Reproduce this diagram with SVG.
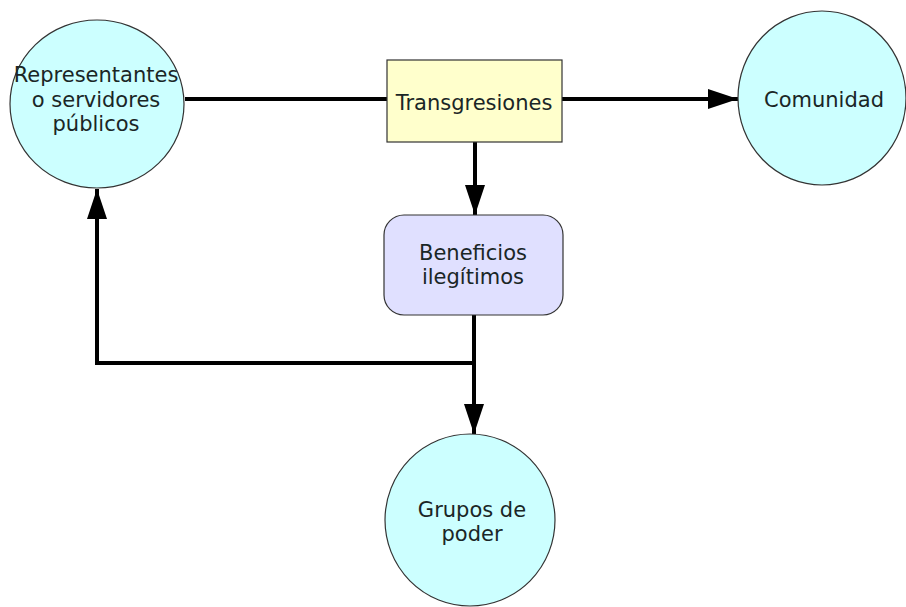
<svg xmlns="http://www.w3.org/2000/svg" width="906" height="607" viewBox="0 0 906 607">
<style>
.circ{fill:#ccffff;stroke:#333;stroke-width:1.2}
.lbl{font-family:"DejaVu Sans",sans-serif;font-size:21px;fill:#1a2626;text-anchor:middle}
.edge{fill:none;stroke:#000;stroke-width:4}
</style>
<defs>
<marker id="ah" markerUnits="userSpaceOnUse" markerWidth="32" markerHeight="22" refX="30" refY="10" orient="auto">
<path d="M0,0 L30,10 L0,20 Z" fill="#000"/>
</marker>
</defs>
<rect width="906" height="607" fill="#fff"/>
<g id="connectors">
<path class="edge" d="M185,99 H387"/>
<path class="edge" d="M562,99 H738" marker-end="url(#ah)"/>
<path class="edge" d="M475,142 V215" marker-end="url(#ah)"/>
<path class="edge" d="M474,315 V434" marker-end="url(#ah)"/>
<path class="edge" d="M474,363 H97 V189" marker-end="url(#ah)"/>
</g>
<g id="representantes">
<ellipse class="circ" cx="97" cy="104" rx="87" ry="84"/>
<text class="lbl" x="96" y="82">Representantes</text>
<text class="lbl" x="96" y="107">o servidores</text>
<text class="lbl" x="96" y="131">públicos</text>
</g>
<g id="transgresiones">
<rect x="387" y="60" width="175" height="82" fill="#ffffcc" stroke="#333" stroke-width="1.2"/>
<text class="lbl" x="474" y="110">Transgresiones</text>
</g>
<g id="comunidad">
<ellipse class="circ" cx="822" cy="98" rx="84" ry="87"/>
<text class="lbl" x="824" y="107">Comunidad</text>
</g>
<g id="beneficios">
<rect x="384" y="215" width="179" height="100" rx="20" fill="#e0e0ff" stroke="#333" stroke-width="1.2"/>
<text class="lbl" x="473" y="260">Beneficios</text>
<text class="lbl" x="473" y="284">ilegítimos</text>
</g>
<g id="grupos">
<ellipse class="circ" cx="470" cy="520" rx="85" ry="86"/>
<text class="lbl" x="472" y="517">Grupos de</text>
<text class="lbl" x="472" y="541">poder</text>
</g>
</svg>
